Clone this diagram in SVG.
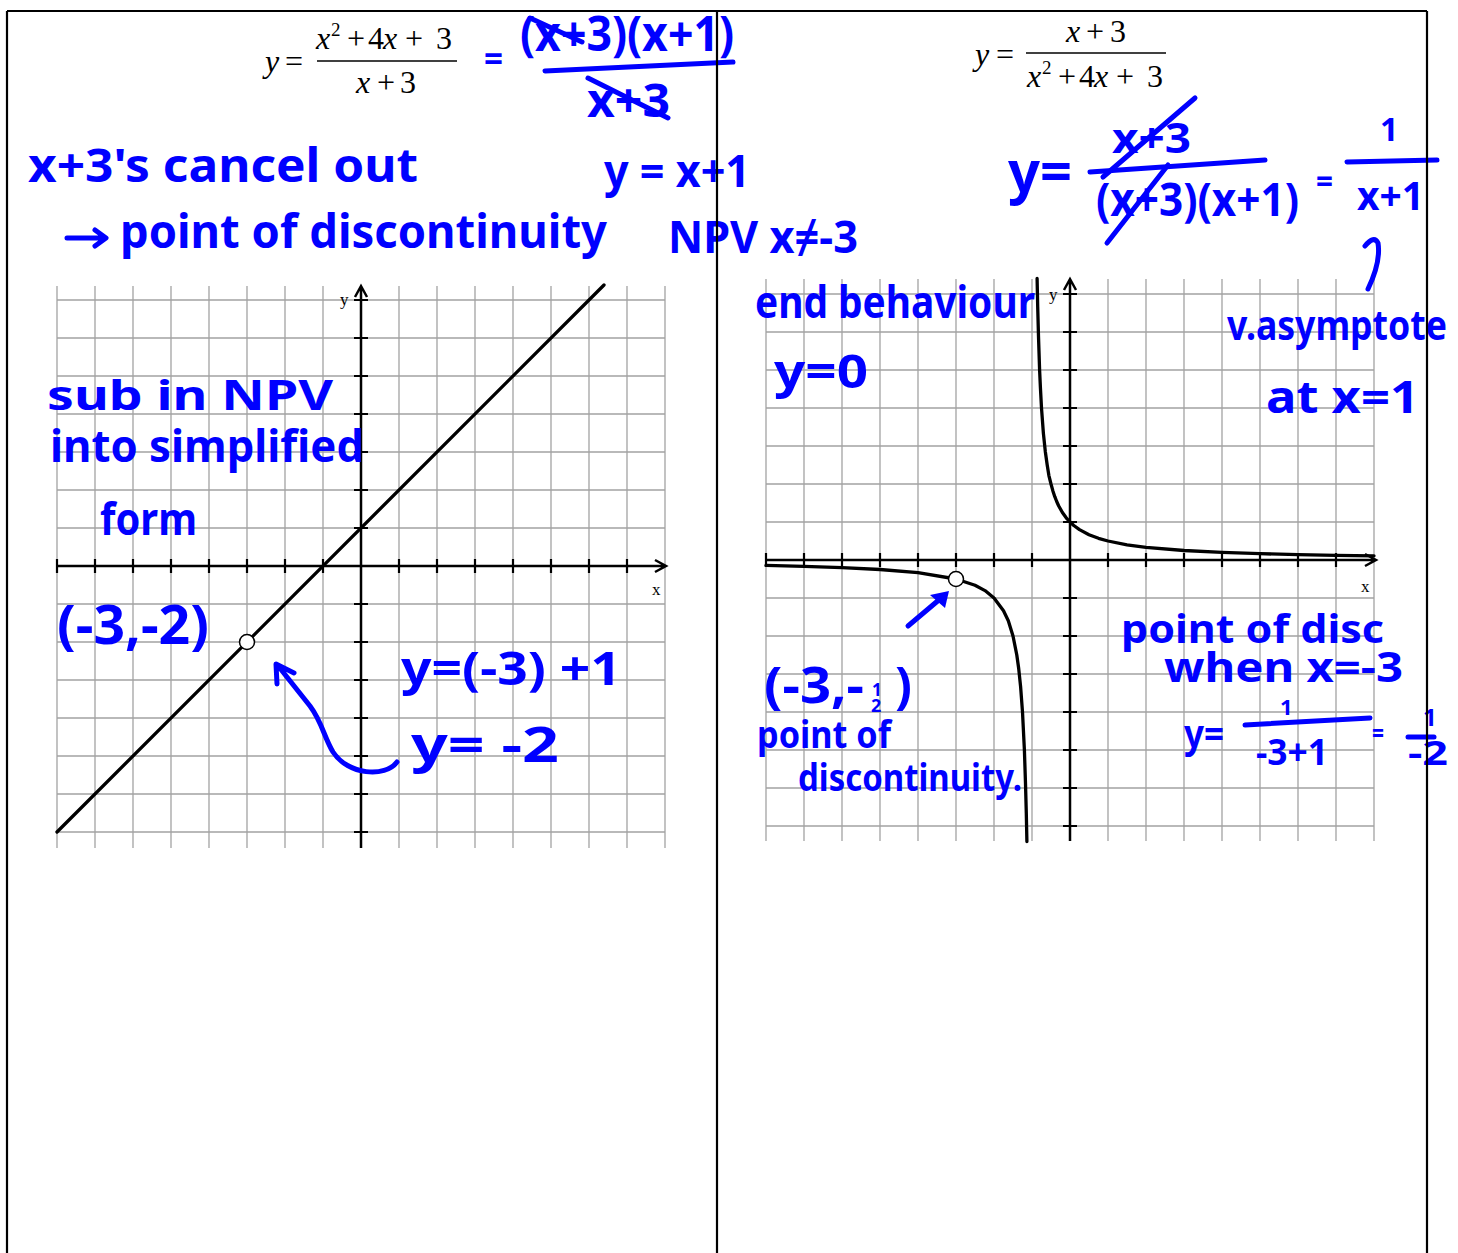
<svg xmlns="http://www.w3.org/2000/svg" width="1458" height="1253" viewBox="0 0 1458 1253">
<style>
.grid{stroke:#a3a3a3;stroke-width:1.3;fill:none}
.axis{stroke:#000;stroke-width:2.5;fill:none}
.tick{stroke:#000;stroke-width:2.2;fill:none}
.plot{stroke:#000;stroke-width:3.3;fill:none;stroke-linejoin:round;stroke-linecap:round}
.hole{fill:#fff;stroke:#000;stroke-width:1.5}
.tm{font-family:"Liberation Serif","Times New Roman",serif;font-size:32px;fill:#000}
.sup{font-size:19px}
.it{font-style:italic}
.lbl{font-family:"Liberation Serif","Times New Roman",serif;font-size:17px;fill:#000}
.hw{font-family:"Noto Sans","DejaVu Sans",sans-serif;font-weight:700;fill:#0000ff}
.ink{stroke:#0000ff;stroke-width:5;fill:none;stroke-linecap:round;stroke-linejoin:round}
.frame{stroke:#000;stroke-width:2.2;fill:none}
</style>
<rect width="1458" height="1253" fill="#fff"/>

<g id="graph-left">
  <path class="grid" d="M57 286V848M95 286V848M133 286V848M171 286V848M209 286V848M247 286V848M285 286V848M323 286V848M399 286V848M437 286V848M475 286V848M513 286V848M551 286V848M589 286V848M627 286V848M665 286V848M57 300H665M57 338H665M57 376H665M57 414H665M57 452H665M57 490H665M57 528H665M57 604H665M57 642H665M57 680H665M57 718H665M57 756H665M57 794H665M57 832H665"/>
  <path class="tick" d="M57 559V573M95 559V573M133 559V573M171 559V573M209 559V573M247 559V573M285 559V573M323 559V573M399 559V573M437 559V573M475 559V573M513 559V573M551 559V573M589 559V573M627 559V573M354 300H368M354 338H368M354 376H368M354 414H368M354 452H368M354 490H368M354 528H368M354 604H368M354 642H368M354 680H368M354 718H368M354 756H368M354 794H368M354 832H368"/>
  <path class="axis" d="M57 566H666M655 560L666 566L655 572M361 286V848M355 297L361 286L367 297"/>
  <text class="lbl" x="340" y="305">y</text>
  <text class="lbl" x="652" y="595">x</text>
  <path class="plot" d="M57 832L604 285"/>
  <circle class="hole" cx="247" cy="642" r="7.5"/>
</g>

<g id="graph-right">
  <path class="grid" d="M766 279V841M804 279V841M842 279V841M880 279V841M918 279V841M956 279V841M994 279V841M1032 279V841M1108 279V841M1146 279V841M1184 279V841M1222 279V841M1260 279V841M1298 279V841M1336 279V841M1374 279V841M766 294H1374M766 332H1374M766 370H1374M766 408H1374M766 446H1374M766 484H1374M766 522H1374M766 598H1374M766 636H1374M766 674H1374M766 712H1374M766 750H1374M766 788H1374M766 826H1374"/>
  <path class="tick" d="M766 553V567M804 553V567M842 553V567M880 553V567M918 553V567M956 553V567M994 553V567M1032 553V567M1108 553V567M1146 553V567M1184 553V567M1222 553V567M1260 553V567M1298 553V567M1336 553V567M1063 294H1077M1063 332H1077M1063 370H1077M1063 408H1077M1063 446H1077M1063 484H1077M1063 522H1077M1063 598H1077M1063 636H1077M1063 674H1077M1063 712H1077M1063 750H1077M1063 788H1077M1063 826H1077"/>
  <path class="axis" d="M766 560H1376M1365 554L1376 560L1365 566M1070 279V841M1064 290L1070 279L1076 290"/>
  <text class="lbl" x="1049" y="300">y</text>
  <text class="lbl" x="1361" y="592">x</text>
  <path class="plot" d="M1037.1 278.5L1037.7 306.7L1038.5 336.5L1039.6 370L1040.4 387.3L1041.5 408L1043.4 433.3L1045.3 451.4L1047.2 465L1048.9 475.6L1051 484L1052.9 490.9L1054.8 496.7L1056.7 501.5L1058.6 505.7L1062.4 512.5L1066.2 517.8L1070 522L1073.8 525.5L1079.5 529.6L1089 534.7L1098.5 538.3L1108 541L1127 544.8L1146 547.3L1184 550.5L1222 552.4L1260 553.7L1298 554.6L1336 555.3L1374 555.8"/>
  <path class="plot" d="M766 565.4L804 566.3L842 567.6L880 569.5L918 572.7L956 579L975 585.3L985 590.6L994 598L1003.5 610.7L1008.3 620.8L1013 636L1016.8 655L1018.7 668.6L1020.6 686.7L1022.5 712L1024.4 750L1025.5 783.5L1026.3 813.3L1026.9 841.5"/>
  <circle class="hole" cx="956" cy="579" r="7.5"/>
</g>

<g id="eq-left">
  <text class="tm it" x="265" y="72">y</text>
  <text class="tm" x="285" y="72">=</text>
  <text class="tm it" x="316" y="49">x</text>
  <text class="tm sup" x="331" y="36">2</text>
  <text class="tm" x="347" y="49">+</text>
  <text class="tm" x="368" y="49">4</text>
  <text class="tm it" x="383" y="49">x</text>
  <text class="tm" x="405" y="49">+</text>
  <text class="tm" x="436" y="49">3</text>
  <path stroke="#000" stroke-width="1.4" d="M317 61H457"/>
  <text class="tm it" x="356" y="93">x</text>
  <text class="tm" x="377" y="93">+</text>
  <text class="tm" x="400" y="93">3</text>
</g>

<g id="eq-right">
  <text class="tm it" x="975" y="65">y</text>
  <text class="tm" x="996" y="65">=</text>
  <text class="tm it" x="1066" y="42">x</text>
  <text class="tm" x="1086" y="42">+</text>
  <text class="tm" x="1110" y="42">3</text>
  <path stroke="#000" stroke-width="1.4" d="M1026 53H1166"/>
  <text class="tm it" x="1027" y="87">x</text>
  <text class="tm sup" x="1042" y="74">2</text>
  <text class="tm" x="1058" y="87">+</text>
  <text class="tm" x="1079" y="87">4</text>
  <text class="tm it" x="1094" y="87">x</text>
  <text class="tm" x="1116" y="87">+</text>
  <text class="tm" x="1147" y="87">3</text>
</g>

<g id="note-factor">
  <text class="hw" x="484" y="71" font-size="36" textLength="19" lengthAdjust="spacingAndGlyphs">=</text>
  <text class="hw" x="520" y="51" font-size="48" textLength="214" lengthAdjust="spacingAndGlyphs">(x+3)(x+1)</text>
  <path class="ink" stroke-width="3" d="M530 18L582 42"/>
  <path class="ink" d="M545 71L733 62"/>
  <text class="hw" x="587" y="117" font-size="46" textLength="83" lengthAdjust="spacingAndGlyphs">x+3</text>
  <path class="ink" stroke-width="3" d="M588 78L668 118"/>
</g>

<g id="note-cancel">
  <text class="hw" x="28" y="182" font-size="46" textLength="390" lengthAdjust="spacingAndGlyphs">x+3's cancel out</text>
  <path class="ink" stroke-width="4" d="M67 238L105 238M95 230L106 238L95 246"/>
  <text class="hw" x="120" y="248" font-size="46" textLength="487" lengthAdjust="spacingAndGlyphs">point of discontinuity</text>
</g>

<g id="note-simplified">
  <text class="hw" x="604" y="187" font-size="44" textLength="146" lengthAdjust="spacingAndGlyphs">y = x+1</text>
  <text class="hw" x="668" y="253" font-size="44" textLength="190" lengthAdjust="spacingAndGlyphs">NPV x≠-3</text>
</g>

<g id="note-reciprocal">
  <text class="hw" x="1008" y="192" font-size="58" textLength="64" lengthAdjust="spacingAndGlyphs">y=</text>
  <text class="hw" x="1112" y="153" font-size="42" textLength="79" lengthAdjust="spacingAndGlyphs">x+3</text>
  <path class="ink" stroke-width="3" d="M1103 177L1195 98"/>
  <path class="ink" d="M1090 172L1265 160"/>
  <text class="hw" x="1096" y="216" font-size="46" textLength="203" lengthAdjust="spacingAndGlyphs">(x+3)(x+1)</text>
  <path class="ink" stroke-width="3" d="M1107 243L1168 165"/>
  <text class="hw" x="1316" y="193" font-size="32" textLength="17" lengthAdjust="spacingAndGlyphs">=</text>
  <text class="hw" x="1380" y="141" font-size="32">1</text>
  <path class="ink" d="M1347 162L1437 160"/>
  <text class="hw" x="1357" y="210" font-size="40" textLength="67" lengthAdjust="spacingAndGlyphs">x+1</text>
  <path class="ink" d="M1368 289Q1381 262 1378 243Q1374 235 1365 246"/>
</g>

<g id="note-end">
  <text class="hw" x="755" y="318" font-size="44" textLength="280" lengthAdjust="spacingAndGlyphs">end behaviour</text>
  <text class="hw" x="774" y="388" font-size="46" textLength="94" lengthAdjust="spacingAndGlyphs">y=0</text>
</g>

<g id="note-asymptote">
  <text class="hw" x="1227" y="340" font-size="42" textLength="220" lengthAdjust="spacingAndGlyphs">v.asymptote</text>
  <text class="hw" x="1266" y="413" font-size="44" textLength="153" lengthAdjust="spacingAndGlyphs">at x=1</text>
</g>

<g id="note-sub">
  <text class="hw" x="47" y="410" font-size="42" textLength="286" lengthAdjust="spacingAndGlyphs">sub in NPV</text>
  <text class="hw" x="50" y="462" font-size="44" textLength="314" lengthAdjust="spacingAndGlyphs">into simplified</text>
  <text class="hw" x="100" y="535" font-size="44" textLength="97" lengthAdjust="spacingAndGlyphs">form</text>
  <text class="hw" x="57" y="644" font-size="54" textLength="152" lengthAdjust="spacingAndGlyphs">(-3,-2)</text>
  <text class="hw" x="401" y="685" font-size="46" textLength="220" lengthAdjust="spacingAndGlyphs">y=(-3) +1</text>
  <text class="hw" x="411" y="762" font-size="48" textLength="148" lengthAdjust="spacingAndGlyphs">y= -2</text>
</g>

<g id="note-disc-right">
  <text class="hw" x="764" y="703" font-size="50" textLength="100" lengthAdjust="spacingAndGlyphs">(-3,-</text>
  <text class="hw" x="872" y="696" font-size="17">1</text>
  <text class="hw" x="871" y="712" font-size="18">2</text>
  <text class="hw" x="895" y="703" font-size="50">)</text>
  <text class="hw" x="757" y="748" font-size="38" textLength="134" lengthAdjust="spacingAndGlyphs">point of</text>
  <text class="hw" x="798" y="791" font-size="38" textLength="224" lengthAdjust="spacingAndGlyphs">discontinuity.</text>
  <text class="hw" x="1121" y="643" font-size="40" textLength="263" lengthAdjust="spacingAndGlyphs">point of disc</text>
  <text class="hw" x="1164" y="682" font-size="42" textLength="239" lengthAdjust="spacingAndGlyphs">when x=-3</text>
  <text class="hw" x="1184" y="748" font-size="40" textLength="40" lengthAdjust="spacingAndGlyphs">y=</text>
  <text class="hw" x="1280" y="715" font-size="22">1</text>
  <path class="ink" stroke-width="4" d="M1245 725L1370 718"/>
  <text class="hw" x="1256" y="765" font-size="36" textLength="72" lengthAdjust="spacingAndGlyphs">-3+1</text>
  <text class="hw" x="1372" y="743" font-size="26" textLength="12" lengthAdjust="spacingAndGlyphs">=</text>
  <text class="hw" x="1423" y="726" font-size="24">1</text>
  <path class="ink" stroke-width="4" d="M1408 737L1434 737"/>
  <text class="hw" x="1408" y="765" font-size="34" textLength="40" lengthAdjust="spacingAndGlyphs">-2</text>
</g>

<g id="connectors">
  <path class="ink" d="M397 762C385 778 348 775 333 752C324 737 322 722 310 706L279 667M277 684L276 664L294 673"/>
  <path class="ink" d="M908 626L940 599"/>
  <polygon fill="#0000ff" points="949,591 930,595 945,608"/>
</g>

<g id="frame">
  <path class="frame" d="M7 11H1427M7 11V1253M717 11V1253M1427 11V1253"/>
</g>
</svg>
